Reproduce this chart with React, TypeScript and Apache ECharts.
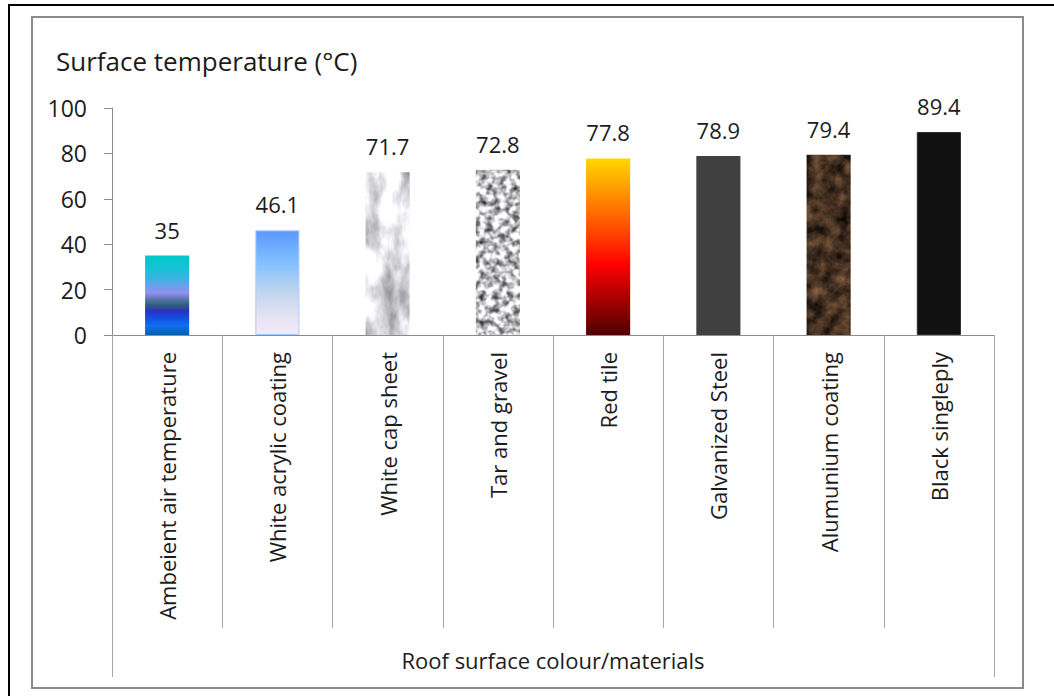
import React, { useEffect, useRef } from "react";
import * as echarts from "echarts";

// Roof materials and their measured surface temperatures (°C)
const categories = [
  "Ambeient air temperature",
  "White acrylic coating",
  "White cap sheet",
  "Tar and gravel",
  "Red tile",
  "Galvanized Steel",
  "Alumunium coating",
  "Black singleply",
];
const temperatures = [35, 46.1, 71.7, 72.8, 77.8, 78.9, 79.4, 89.4];

const yMin = 0;
const yMax = 100;
const yStep = 20;

const FONT = "Open Sans";
const TEXT = "#1c1c1c";

// Procedural material textures (SVG turbulence), used as pattern fills
function noiseTexture(freq: string, octaves: number, seed: number, matrix: string): string {
  const svg =
    `<svg xmlns='http://www.w3.org/2000/svg' width='1054' height='700'>` +
    `<filter id='n' x='0' y='0' width='100%' height='100%' color-interpolation-filters='sRGB'>` +
    `<feTurbulence type='fractalNoise' baseFrequency='${freq}' numOctaves='${octaves}' seed='${seed}'/>` +
    `<feColorMatrix type='matrix' values='${matrix}'/>` +
    `</filter><rect width='100%' height='100%' filter='url(#n)'/></svg>`;
  return "data:image/svg+xml;charset=utf-8," + encodeURIComponent(svg);
}

function pattern(src: string) {
  return { image: src, repeat: "repeat", imageWidth: 1054, imageHeight: 700 } as any;
}

const grad = (stops: [number, string][]) =>
  new echarts.graphic.LinearGradient(
    0, 0, 0, 1,
    stops.map(([offset, color]) => ({ offset, color }))
  );

function materialFills(): any[] {
  const whiteCap = noiseTexture(
    "0.05 0.025", 4, 3,
    "0.95 0 0 0 0.4  0.95 0 0 0 0.4  0.95 0 0 0 0.42  0 0 0 0 1"
  );
  const gravel = noiseTexture(
    "0.15", 2, 7,
    "1.6 0 0 0 -0.05  1.6 0 0 0 -0.05  1.6 0 0 0 -0.04  0 0 0 0 1"
  );
  const aluminium = noiseTexture(
    "0.08", 4, 11,
    "0.62 0 0 0 -0.04  0.45 0 0 0 -0.035  0.3 0 0 0 -0.02  0 0 0 0 1"
  );
  return [
    grad([
      [0, "#02c8c8"],
      [0.14, "#10c4d4"],
      [0.3, "#40b0e4"],
      [0.47, "#9490f0"],
      [0.56, "#5272a4"],
      [0.63, "#2e5a7c"],
      [0.7, "#2a30c0"],
      [0.79, "#1450e2"],
      [0.88, "#0e70f0"],
      [1, "#0060ae"],
    ]),
    grad([
      [0, "#5c98ff"],
      [0.3, "#80c0ff"],
      [0.6, "#c2d6ee"],
      [0.85, "#e8e4f4"],
      [1, "#f8e8f8"],
    ]),
    pattern(whiteCap),
    pattern(gravel),
    grad([
      [0, "#ffd800"],
      [0.2, "#ff9200"],
      [0.45, "#ff3a00"],
      [0.6, "#ff0000"],
      [0.78, "#b00000"],
      [1, "#500000"],
    ]),
    "#404040",
    pattern(aluminium),
    "#111111",
  ];
}

export default function App() {
  const ref = useRef<HTMLDivElement>(null);

  useEffect(() => {
    if (!ref.current) return;
    const chart = echarts.init(ref.current, null, { renderer: "svg" });
    const fills = materialFills();

    chart.setOption({
      animation: false,
      backgroundColor: "#ffffff",
      textStyle: { fontFamily: FONT },
      title: {
        text: "Surface temperature (°C)",
        left: 51,
        top: 43,
        textStyle: { fontFamily: FONT, fontSize: 26, fontWeight: "normal", color: TEXT },
      },
      grid: { left: 112, right: 60, top: 108, bottom: 361, containLabel: false },
      xAxis: [
        {
          type: "category",
          data: categories,
          position: "bottom",
          axisLine: { show: true, lineStyle: { color: "#8c8c8c", width: 1 } },
          axisTick: { show: true, interval: 0, length: 293, lineStyle: { color: "#a6a6a6" } },
          axisLabel: {
            interval: 0,
            rotate: 90,
            margin: 17,
            fontFamily: FONT,
            fontSize: 22,
            color: TEXT,
          },
          name: "Roof surface colour/materials",
          nameLocation: "middle",
          nameGap: 314,
          nameTextStyle: { fontFamily: FONT, fontSize: 22, color: TEXT },
        },
        {
          // outer group bracket spanning all categories
          type: "category",
          data: [""],
          position: "bottom",
          axisLine: { show: false },
          axisTick: { show: true, length: 342, lineStyle: { color: "#a6a6a6" } },
          axisLabel: { show: false },
        },
      ],
      yAxis: {
        type: "value",
        min: yMin,
        max: yMax,
        interval: yStep,
        axisLine: { show: true, lineStyle: { color: "#8c8c8c" } },
        axisTick: { show: true, length: 8, lineStyle: { color: "#8c8c8c" } },
        splitLine: { show: false },
        axisLabel: { margin: 25, fontFamily: FONT, fontSize: 23, color: TEXT },
      },
      series: [
        {
          type: "bar",
          xAxisIndex: 0,
          barWidth: "40%",
          data: temperatures.map((v, i) => ({
            value: v,
            itemStyle: {
              color: fills[i],
              borderColor: i === 1 ? "#a8ccff" : i === 7 ? "#2a2a2a" : undefined,
              borderWidth: i === 1 || i === 7 ? 1 : 0,
            },
          })),
          label: {
            show: true,
            position: "top",
            distance: 15,
            fontFamily: FONT,
            fontSize: 22,
            color: TEXT,
          },
        },
      ],
      graphic: [
        {
          type: "rect",
          shape: { x: 9, y: 5, width: 1200, height: 900 },
          style: { fill: "none", stroke: "#000000", lineWidth: 2 },
          silent: true,
        },
        {
          type: "rect",
          shape: { x: 32, y: 17, width: 991, height: 671 },
          style: { fill: "none", stroke: "#8a8a8a", lineWidth: 2 },
          silent: true,
        },
      ],
    });

    return () => chart.dispose();
  }, []);

  return (
    <div
      ref={ref}
      style={{ position: "fixed", left: 0, top: 0, width: 1054, height: 696 }}
    />
  );
}
